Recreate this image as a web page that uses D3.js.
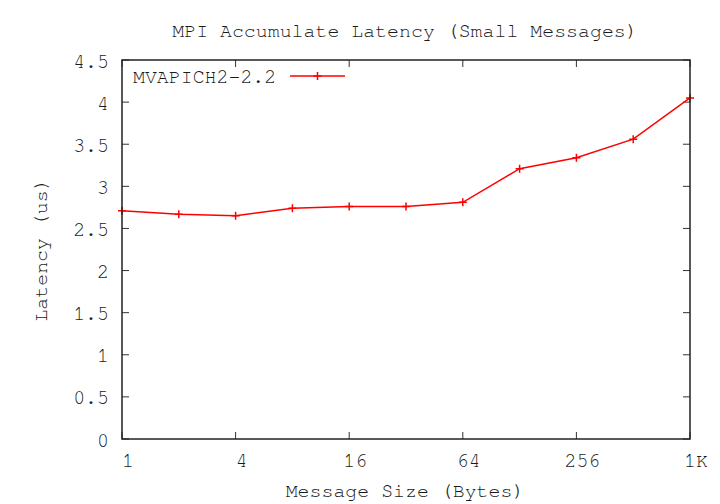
<!DOCTYPE html>
<html><head><meta charset="utf-8">
<script src="https://cdn.jsdelivr.net/npm/d3@7/dist/d3.min.js"></script>
<style>
html,body{margin:0;padding:0;background:#fff;}
text{font-family:"FreeMono","Liberation Mono",monospace;font-size:19.9px;fill:#1a1a1a;}
</style></head>
<body><svg id="c" width="720" height="504"></svg>
<script>
const sizes = [1,2,4,8,16,32,64,128,256,512,1024];
const latency = [2.71,2.67,2.65,2.74,2.76,2.76,2.81,3.21,3.34,3.56,4.05];
const xTicks = [1,4,16,64,256,1024];
const xTickLabels = ["1","4","16","64","256","1K"];
const yTicks = [0,0.5,1,1.5,2,2.5,3,3.5,4,4.5];
const seriesName = "MVAPICH2-2.2";
const title = "MPI Accumulate Latency (Small Messages)";
const xLabel = "Message Size (Bytes)";
const yLabel = "Latency (us)";

const L=122,R=690,T=60,B=439;
const svg=d3.select("#c");
const x=d3.scaleLog().base(2).domain([1,1024]).range([L,R]);
const y=d3.scaleLinear().domain([0,4.5]).range([B,T]);
const tk=7;

// ticks
const g=svg.append("g").attr("stroke","#333").attr("stroke-width",1);
xTicks.forEach(v=>{
  g.append("line").attr("x1",x(v)).attr("x2",x(v)).attr("y1",B).attr("y2",B-tk);
  g.append("line").attr("x1",x(v)).attr("x2",x(v)).attr("y1",T).attr("y2",T+tk);
});
yTicks.forEach(v=>{
  g.append("line").attr("x1",L).attr("x2",L+tk).attr("y1",y(v)).attr("y2",y(v));
  g.append("line").attr("x1",R).attr("x2",R-tk).attr("y1",y(v)).attr("y2",y(v));
});
// labels
xTicks.forEach((v,i)=>{
  svg.append("text").attr("x",x(v)+6).attr("y",467).attr("text-anchor","middle").text(xTickLabels[i]);
});
yTicks.forEach(v=>{
  svg.append("text").attr("x",109).attr("y",y(v)+7.5).attr("text-anchor","end").text(String(v));
});
svg.append("text").attr("x",405).attr("y",37).attr("text-anchor","middle").text(title);
svg.append("text").attr("x",405).attr("y",497).attr("text-anchor","middle").text(xLabel);
svg.append("text").attr("transform","translate(47,250) rotate(-90)").attr("text-anchor","middle").text(yLabel);

// series
const line=d3.line().x((d,i)=>x(sizes[i])).y(d=>y(d));
svg.append("path").datum(latency).attr("d",line).attr("fill","none").attr("stroke","#ff0000").attr("stroke-width",1.5);
const m=4;
latency.forEach((v,i)=>{
  const cx=x(sizes[i]),cy=y(v);
  svg.append("path").attr("d",`M${cx-m},${cy}H${cx+m}M${cx},${cy-m}V${cy+m}`).attr("stroke","#ff0000").attr("stroke-width",1.5);
});
// legend
svg.append("text").attr("x",133).attr("y",83).text(seriesName);
svg.append("line").attr("x1",290).attr("x2",345).attr("y1",76).attr("y2",76).attr("stroke","#ff0000").attr("stroke-width",1.5);
svg.append("path").attr("d",`M${317.5-m},76H${317.5+m}M317.5,${76-m}V${76+m}`).attr("stroke","#ff0000").attr("stroke-width",1.5);

// frame
svg.append("rect").attr("x",L).attr("y",T).attr("width",R-L).attr("height",B-T).attr("fill","none").attr("stroke","#222").attr("stroke-width",1.5);
</script></body></html>
